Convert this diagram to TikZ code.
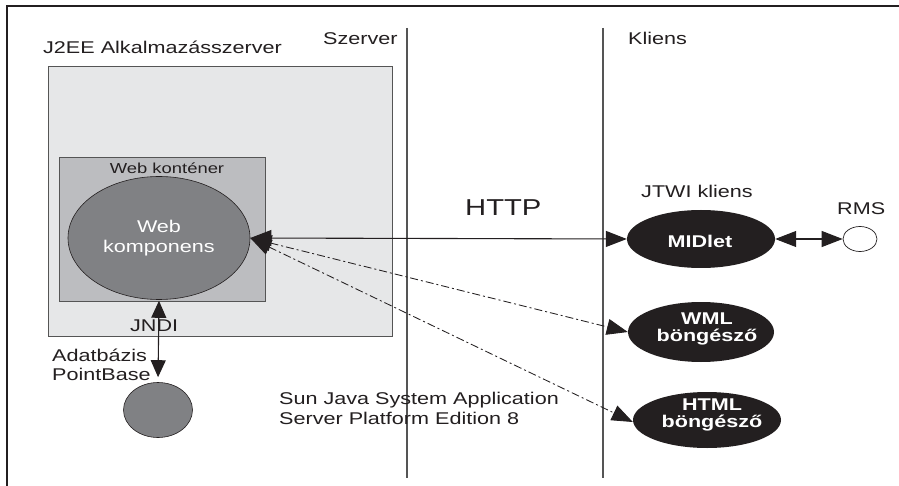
\documentclass[tikz,border=0pt]{standalone}
\usepackage{fontspec}
\setmainfont[FakeStretch=1.27]{Liberation Sans}
\usetikzlibrary{shapes.geometric,arrows.meta}
\definecolor{lightbox}{RGB}{230,231,232}
\definecolor{midbox}{RGB}{188,189,192}
\definecolor{darkell}{RGB}{128,129,132}
\definecolor{ink}{RGB}{35,31,32}
\definecolor{sepline}{RGB}{85,85,85}
\begin{document}
\begin{tikzpicture}[x=1pt,y=-1pt,
  txt/.style={inner sep=0pt, anchor=base west, font=\fontsize{17}{20}\selectfont, text=ink},
  boldtxt/.style={inner sep=0pt, align=center, text=white, font=\bfseries\fontsize{17}{17.5}\selectfont},
  boxshape/.style={draw=sepline, line width=0.8pt, anchor=north west, inner sep=0pt},
  grayell/.style={ellipse, draw=ink, line width=0.6pt, fill=darkell, inner sep=0pt},
  blackell/.style={ellipse, fill=ink, inner sep=0pt},
  twotip/.style={{Triangle[length=21pt,width=16pt]}-{Triangle[length=21pt,width=16pt]}},
  vtwotip/.style={{Triangle[length=17pt,width=15pt]}-{Triangle[length=17pt,width=15pt]}},
  dashdot/.style={line width=0.85pt, dash pattern=on 8pt off 3pt on 2pt off 3pt},
  sep/.style={line width=1.6pt, draw=sepline}
]
\useasboundingbox (0,0) rectangle (899,486);
\fill[white] (0,0) rectangle (899,486);

% frame
\draw[line width=1.6pt, ink] (7,486) -- (7,6) -- (899,6);

% separators
\draw[sep] (407,28) -- (407,478);
\draw[sep] (603,28) -- (603,478);

% boxes
\node[boxshape, fill=lightbox, minimum width=344pt, minimum height=270pt] (appsrv) at (48,66) {};
\node[boxshape, fill=midbox, minimum width=206pt, minimum height=144pt] (webcont) at (59,157) {};

% labels
\node[txt] (j2ee) at (43,54) {J2EE Alkalmazásszerver};
\node[txt] (szerver) at (323,45) {Szerver};
\node[txt] (kliens) at (628,45) {Kliens};
\node[txt, anchor=base, font=\fontsize{14.5}{17}\selectfont] (webkont) at (167,174) {Web konténer};
\node[txt] (jndi) at (130,331) {JNDI};
\node[txt] (adat) at (52,361) {Adatbázis};
\node[txt] (pbase) at (52,380) {PointBase};
\node[txt] (sun1) at (279,404) {Sun Java System Application};
\node[txt] (sun2) at (279,424) {Server Platform Edition 8};
\node[txt, font=\fontsize{23}{26}\selectfont] (http) at (465,216) {HTTP};
\node[txt] (jtwi) at (641,198) {JTWI kliens};
\node[txt] (rmsl) at (837,215) {RMS};

% ellipses
\node[grayell, minimum width=182pt, minimum height=123pt, align=center, text=white,
      font=\fontsize{17}{20}\selectfont] (webcomp) at (159,238) {Web\\komponens};
\node[grayell, minimum width=69pt, minimum height=55pt] (db) at (158,410) {};
\node[blackell, minimum width=148pt, minimum height=58pt] (midlet) at (701,239) {};
\node[boldtxt] (midlett) at (700,241) {MIDlet};
\node[blackell, minimum width=146pt, minimum height=60pt] (wml) at (701,332) {};
\node[boldtxt] (wmlt) at (707,329) {WML\\böngésző};
\node[blackell, minimum width=148pt, minimum height=56pt] (html) at (707,420) {};
\node[boldtxt] (htmlt) at (712,415) {HTML\\böngésző};
\node[ellipse, draw=ink, line width=0.7pt, fill=white, inner sep=0pt,
      minimum width=34pt, minimum height=25pt] (rms) at (860,239) {};

% connectors
\draw[ink, line width=1.1pt, twotip] (webcomp.east) -- (midlet.west);
\draw[ink, line width=1.1pt, twotip] (midlet.east) -- (rms.west);
\draw[ink, line width=1.1pt, vtwotip, shorten <=1pt, shorten >=5pt] (webcomp.south) -- (db.north);
\draw[ink, dashdot, twotip] (webcomp.east) -- (wml.west);
\draw[ink, dashdot, twotip] (webcomp.east) -- ([yshift=-2pt]html.west);
\end{tikzpicture}
\end{document}
